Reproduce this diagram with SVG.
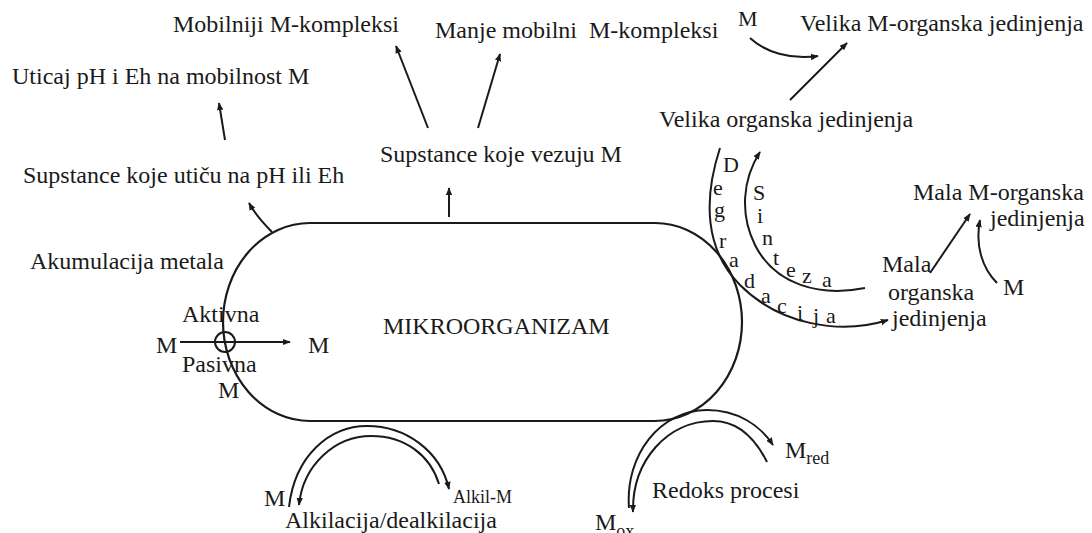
<svg xmlns="http://www.w3.org/2000/svg" width="1092" height="533" viewBox="0 0 1092 533" font-family="'Liberation Serif', 'Times New Roman', Times, serif">
<defs>
<style>
text{font-family:'Liberation Serif','Times New Roman',Times,serif;font-size:24px;fill:#1a1a1a}
.l{font-size:22px}
.s{font-size:18px}
.ln{fill:none;stroke:#1a1a1a;stroke-width:2}
.ar{marker-end:url(#ah)}
</style>
<marker id="ah" viewBox="0 0 10 10" refX="9" refY="5" markerWidth="8" markerHeight="8" markerUnits="userSpaceOnUse" orient="auto">
<path d="M0,1 L10,5 L0,9 Z" fill="#1a1a1a"/>
</marker>
</defs>
<rect width="1092" height="533" fill="#fff"/>

<g id="connectors">
<path class="ln ar" d="M272 232 C262 222 255 214 249 203"/>
<path class="ln ar" d="M449 217 L449 188"/>
<path class="ln ar" d="M225 140 L219 103"/>
<path class="ln ar" d="M428 128 L396 46"/>
<path class="ln ar" d="M478 128 L500 54"/>
<path class="ln ar" d="M750 38 C765 52 790 60 818 56"/>
<path class="ln ar" d="M790 100 L847 43"/>
<path class="ln ar" d="M720 148 C703 200 705 250 740 285 C780 325 840 335 888 320"/>
<path class="ln ar" d="M865 288 C820 297 775 285 755 245 C740 215 742 180 760 152"/>
<path class="ln ar" d="M930 273 L970 214"/>
<path class="ln ar" d="M997 283 C982 268 975 245 980 220"/>
<path class="ln ar" d="M180 342 L290 342"/>
<path class="ln ar" d="M289 507 C295 455 330 426 367 426 C405 426 440 450 449 489"/>
<path class="ln ar" d="M439 484 C430 455 405 436 371 436 C335 436 303 465 299 505"/>
<path class="ln ar" d="M629 508 C625 455 660 410 707 410 C737 410 760 425 773 445"/>
<path class="ln ar" d="M767 462 C755 438 738 421 713 421 C668 421 632 460 633 512"/>
</g>

<g id="mikroorganizam">
<rect x="223" y="223" width="519" height="198" rx="87" ry="99" fill="none" stroke="#1a1a1a" stroke-width="2.2"/>
<text x="383" y="334">MIKROORGANIZAM</text>
</g>

<g id="transport">
<circle cx="225" cy="342" r="10" fill="none" stroke="#1a1a1a" stroke-width="2"/>
<text x="156" y="353">M</text>
<text x="308" y="353">M</text>
<text x="182" y="322">Aktivna</text>
<text x="182" y="372">Pasivna</text>
<text x="218" y="398">M</text>
</g>

<g id="akumulacija"><text x="30" y="269">Akumulacija metala</text></g>
<g id="supstance-ph"><text x="23" y="183">Supstance koje utiču na pH ili Eh</text></g>
<g id="uticaj"><text x="12" y="84">Uticaj pH i Eh na mobilnost M</text></g>
<g id="supstance-vezuju"><text x="380" y="162">Supstance koje vezuju M</text></g>
<g id="mobilniji"><text x="173" y="32">Mobilniji M-kompleksi</text></g>
<g id="manje"><text x="435" y="38" xml:space="preserve">Manje mobilni  M-kompleksi</text></g>
<g id="m-top"><text x="738" y="26" class="l">M</text></g>
<g id="velika-m"><text x="800" y="31">Velika M-organska jedinjenja</text></g>
<g id="velika"><text x="659" y="127">Velika organska jedinjenja</text></g>

<g id="degradacija">
<text class="l" x="723" y="172">D</text>
<text class="l" x="713" y="195">e</text>
<text class="l" x="714" y="217">g</text>
<text class="l" x="719" y="248">r</text>
<text class="l" x="729" y="267">a</text>
<text class="l" x="744" y="288">d</text>
<text class="l" x="761" y="303">a</text>
<text class="l" x="777" y="313">c</text>
<text class="l" x="797" y="320">i</text>
<text class="l" x="813" y="323">j</text>
<text class="l" x="826" y="323">a</text>
</g>
<g id="sinteza">
<text class="l" x="753" y="200">S</text>
<text class="l" x="757" y="223">i</text>
<text class="l" x="762" y="245">n</text>
<text class="l" x="773" y="265">t</text>
<text class="l" x="786" y="277">e</text>
<text class="l" x="802" y="283">z</text>
<text class="l" x="822" y="287">a</text>
</g>

<g id="mala">
<text x="882" y="272">Mala</text>
<text x="888" y="300">organska</text>
<text x="892" y="326">jedinjenja</text>
</g>
<g id="mala-m">
<text x="913" y="200">Mala M-organska</text>
<text x="990" y="226">jedinjenja</text>
</g>
<g id="m-right"><text x="1003" y="295">M</text></g>

<g id="alkilacija">
<text x="264" y="506">M</text>
<text x="453" y="503" class="s">Alkil-M</text>
<text x="285" y="528">Alkilacija/dealkilacija</text>
</g>

<g id="redoks">
<text x="652" y="498">Redoks procesi</text>
<text x="785" y="458">M<tspan class="s" dy="6">red</tspan></text>
<text x="595" y="530">M<tspan class="s" dy="7">ox</tspan></text>
</g>
</svg>
